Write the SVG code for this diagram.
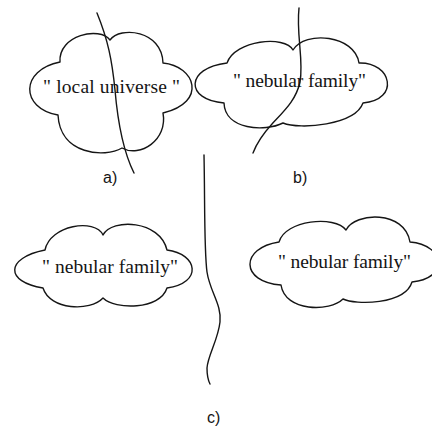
<svg xmlns="http://www.w3.org/2000/svg" width="432" height="428" viewBox="0 0 432 428">
<style>
.cloud{fill:#fff;stroke:#151515;stroke-width:1.4;stroke-linejoin:round}
.cut{fill:none;stroke:#151515;stroke-width:1.4;stroke-linecap:round}
.lbl{font-family:"Liberation Serif","Times New Roman",serif;font-size:19.5px;fill:#151515}
.cap{font-family:"Liberation Sans",Arial,sans-serif;font-size:16px;fill:#151515}
</style>
<rect width="432" height="428" fill="#fff"/>
<g id="cloud-a">
<path class="cloud" d="M60,62 C58,35 100,26 110,40 C120,26 162,30 163,63 C195,66 208,102 163,113 C168,140 140,158 122,148 C105,158 60,155 58,115 C20,108 20,70 60,62 Z"/>
<text class="lbl" x="43" y="93" textLength="137" lengthAdjust="spacing">" local universe "</text>
</g>
<g id="cloud-b">
<path class="cloud" d="M227,63 C235,40 285,35 293,50 C305,30 355,35 359,63 C392,62 400,100 363,103 C355,125 300,130 283,123 C265,132 225,130 224,103 C185,100 185,68 227,63 Z"/>
<text class="lbl" x="233" y="87" textLength="133" lengthAdjust="spacing">" nebular family"</text>
</g>
<g id="cloud-c-left">
<path class="cloud" d="M45,250 C50,225 95,218 103,235 C112,218 160,220 167,250 C198,254 203,283 167,288 C160,310 115,310 103,298 C90,312 50,310 43,288 C5,282 5,258 45,250 Z"/>
<text class="lbl" x="42" y="273" textLength="136" lengthAdjust="spacing">" nebular family"</text>
</g>
<g id="cloud-c-right">
<path class="cloud" d="M279,242 C285,220 335,215 346,230 C355,212 405,210 410,242 C445,245 450,278 412,282 C405,305 355,305 343,299 C330,312 285,312 281,285 C240,282 240,248 279,242 Z"/>
<text class="lbl" x="278" y="268" textLength="133" lengthAdjust="spacing">" nebular family"</text>
</g>
<g id="connectors">
<path class="cut" d="M97,13 C108,40 112,60 115,90 C118,125 125,155 134,173"/>
<path class="cut" d="M299,8 C296,35 304,60 300,82 C296,100 285,110 272,124 C262,135 256,145 253,153"/>
<path class="cut" d="M204,155 C205,200 204,250 207,272 C210,292 222,305 220,322 C218,340 208,355 207,368 C207,376 208,380 210,384"/>
</g>
<g id="label-a"><text class="cap" x="103" y="183">a)</text></g>
<g id="label-b"><text class="cap" x="293" y="183">b)</text></g>
<g id="label-c"><text class="cap" x="207" y="423">c)</text></g>
</svg>
